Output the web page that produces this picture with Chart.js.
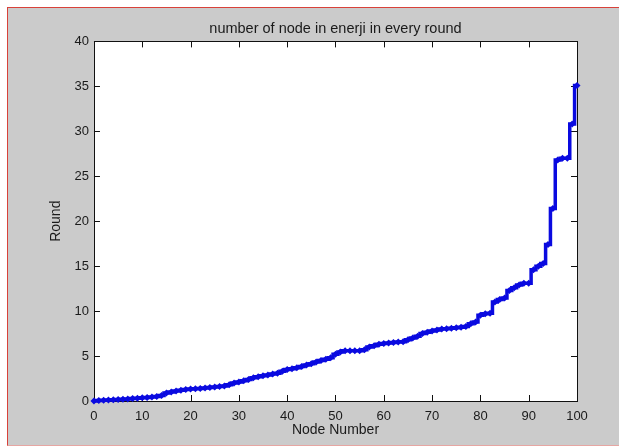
<!DOCTYPE html>
<html>
<head>
<meta charset="utf-8">
<title>number of node in enerji in every round</title>
<script src="https://cdn.jsdelivr.net/npm/chart.js@4.4.1/dist/chart.umd.min.js"></script>
<style>
    html, body { margin: 0; padding: 0; background: #fff; }
    #frame {
        position: absolute;
        left: 7px; top: 7px;
        width: 612px; height: 437px;
        background: #cbcbcb;
        border-top: 1px solid #d8413a;
        border-left: 1px solid #d8413a;
        border-bottom: 1px solid #e6a6a2;
    }
    #chart { position: absolute; left: 0; top: 0; }
</style>
</head>
<body>
<div id="frame"></div>
<canvas id="chart" width="619" height="447"></canvas>
<script>
// node index along the x axis
const nodeNumber = [
    0, 1, 2, 3, 4, 5, 6, 7, 8, 9,
    10, 11, 12, 13, 14, 15, 16, 17, 18, 19,
    20, 21, 22, 23, 24, 25, 26, 27, 28, 29,
    30, 31, 32, 33, 34, 35, 36, 37, 38, 39,
    40, 41, 42, 43, 44, 45, 46, 47, 48, 49,
    50, 51, 52, 53, 54, 55, 56, 57, 58, 59,
    60, 61, 62, 63, 64, 65, 66, 67, 68, 69,
    70, 71, 72, 73, 74, 75, 76, 77, 78, 79,
    80, 81, 82, 83, 84, 85, 86, 87, 88, 89,
    90, 91, 92, 93, 94, 95, 96, 97, 98, 99,
    100
];

// round in which each node runs out (sorted)
const roundValue = [
    0.0, 0.05, 0.08, 0.1, 0.13, 0.17, 0.2, 0.23, 0.27, 0.3,
    0.35, 0.4, 0.45, 0.5, 0.6, 0.9, 1.0, 1.1, 1.2, 1.28,
    1.33, 1.37, 1.4, 1.45, 1.5, 1.55, 1.6, 1.67, 1.8, 2.0,
    2.1, 2.25, 2.4, 2.6, 2.7, 2.8, 2.9, 3.0, 3.1, 3.3,
    3.5, 3.6, 3.7, 3.85, 4.0, 4.15, 4.35, 4.5, 4.65, 4.8,
    5.2, 5.45, 5.6, 5.6, 5.6, 5.6, 5.7, 6.0, 6.15, 6.3,
    6.4, 6.45, 6.5, 6.55, 6.6, 6.8, 7.0, 7.2, 7.5, 7.65,
    7.8, 7.9, 8.0, 8.05, 8.1, 8.15, 8.2, 8.3, 8.6, 8.8,
    9.55, 9.7, 9.75, 11.0, 11.3, 11.45, 12.3, 12.6, 12.9, 13.1,
    13.1, 14.6, 15.0, 15.3, 17.4, 21.4, 26.8, 27.0, 27.0, 30.8,
    35.1
];

const xTicks = [0, 10, 20, 30, 40, 50, 60, 70, 80, 90, 100];
const yTicks = [0, 5, 10, 15, 20, 25, 30, 35, 40];

const FONT = "'Liberation Sans', Arial, sans-serif";
const TICK = 6;

// white plot box, black frame, inward tick marks on all four sides
const axisBox = {
    id: 'axisBox',
    beforeDatasetsDraw(chart) {
        const { ctx, chartArea: a, scales: { x, y } } = chart;
        ctx.save();
        ctx.strokeStyle = '#111';
        ctx.lineWidth = 1;
        ctx.beginPath();
        x.ticks.forEach(t => {
            const px = Math.round(x.getPixelForValue(t.value)) + 0.5;
            ctx.moveTo(px, a.bottom); ctx.lineTo(px, a.bottom - TICK);
            ctx.moveTo(px, a.top); ctx.lineTo(px, a.top + TICK);
        });
        y.ticks.forEach(t => {
            const py = Math.round(y.getPixelForValue(t.value)) + 0.5;
            ctx.moveTo(a.left, py); ctx.lineTo(a.left + TICK, py);
            ctx.moveTo(a.right, py); ctx.lineTo(a.right - TICK, py);
        });
        ctx.stroke();
        ctx.strokeRect(Math.round(a.left) + 0.5, Math.round(a.top) + 0.5,
            Math.round(a.right - a.left), Math.round(a.bottom - a.top));
        ctx.restore();
    },
    beforeDraw(chart) {
        const { ctx, chartArea: a } = chart;
        ctx.save();
        ctx.fillStyle = '#fff';
        ctx.fillRect(a.left, a.top, a.right - a.left, a.bottom - a.top);
        ctx.restore();
    }
};

new Chart(document.getElementById('chart'), {
    type: 'line',
    data: {
        datasets: [{
            data: nodeNumber.map((n, i) => ({ x: n, y: roundValue[i] })),
            borderColor: '#0a0ae0',
            backgroundColor: '#0a0ae0',
            borderWidth: 3.5,
            stepped: 'middle',
            pointStyle: 'rectRot',
            pointRadius: 3.5,
            pointBorderWidth: 0,
            clip: false
        }]
    },
    options: {
        responsive: false,
        animation: false,
        devicePixelRatio: 1,
        layout: { padding: { left: 8, right: 42, top: 8, bottom: 8 } },
        plugins: {
            legend: { display: false },
            tooltip: { enabled: false },
            title: {
                display: true,
                text: 'number of node in enerji in every round',
                color: '#1a1a1a',
                fullSize: false,
                font: { family: FONT, size: 14.5, weight: 'normal' },
                padding: { top: 12, bottom: 4 }
            }
        },
        scales: {
            x: {
                type: 'linear',
                min: 0, max: 100,
                grid: { display: false, drawTicks: false },
                border: { display: false },
                afterBuildTicks: s => { s.ticks = xTicks.map(v => ({ value: v })); },
                ticks: { color: '#1a1a1a', padding: 7.7, maxRotation: 0, font: { family: FONT, size: 13 } },
                title: {
                    display: true, text: 'Node Number', color: '#1a1a1a',
                    font: { family: FONT, size: 14 },
                    padding: { top: -10.4, bottom: 0.6 }
                }
            },
            y: {
                type: 'linear',
                min: 0, max: 40,
                grid: { display: false, drawTicks: false },
                border: { display: false },
                afterBuildTicks: s => { s.ticks = yTicks.map(v => ({ value: v })); },
                ticks: { color: '#1a1a1a', padding: 5, font: { family: FONT, size: 13 } },
                title: {
                    display: true, text: 'Round', color: '#1a1a1a',
                    font: { family: FONT, size: 14 },
                    padding: { top: 39.6, bottom: 5.1 }
                }
            }
        }
    },
    plugins: [axisBox]
});
</script>
</body>
</html>
